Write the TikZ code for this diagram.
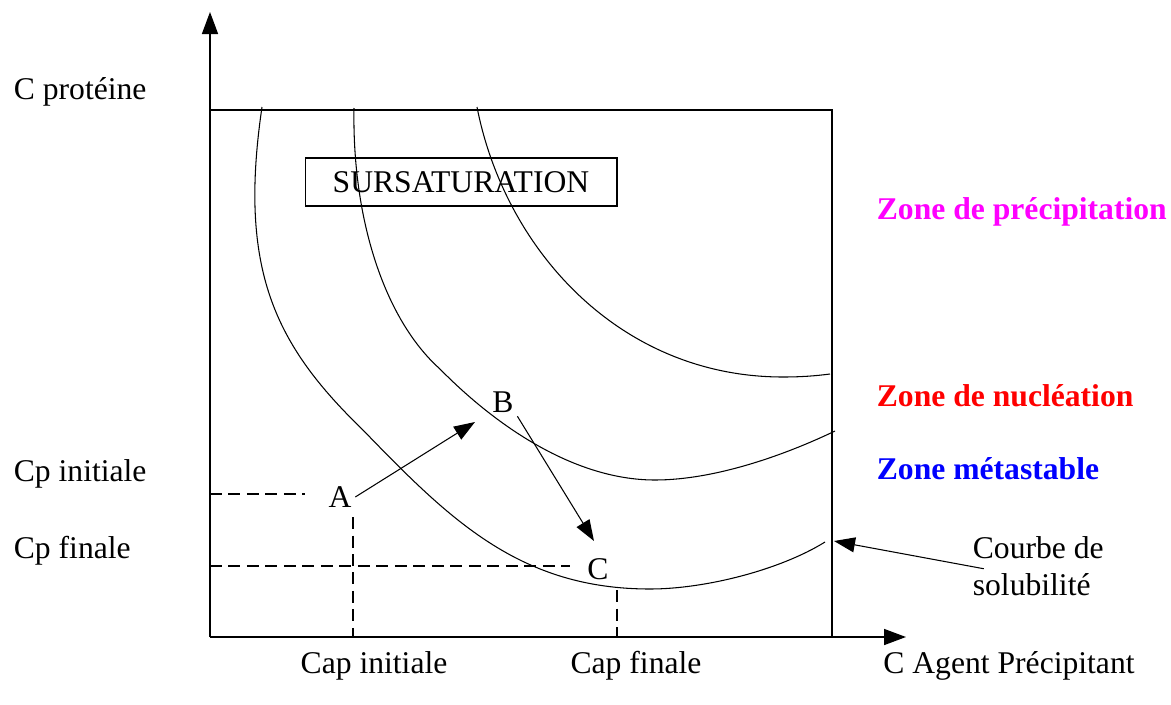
\documentclass[tikz,border=0pt]{standalone}
\usepackage{fontspec}
\setmainfont{Liberation Serif}
\usetikzlibrary{
	positioning,
	arrows.meta
}
\definecolor{precipcolor}{HTML}{FF00FF}
\definecolor{nuclcolor}{HTML}{FF0000}
\definecolor{metacolor}{HTML}{0000FF}
\tikzset{
	labelnode/.style={
		inner sep=2pt,
		font=\fontsize{18}{21}\selectfont
	},
	zonenode/.style={
		labelnode,
		anchor=west,
		font=\fontsize{18}{21}\selectfont\bfseries
	},
	axisline/.style={
		-{Triangle[length=0.44cm,width=0.32cm]},
		line width=0.9pt
	},
	arrow/.style={
		-{Triangle[length=0.42cm,width=0.3cm]},
		line width=0.6pt
	},
	solcurve/.style={
		line width=0.6pt
	},
	dashline/.style={
		dash pattern=on 0.24cm off 0.13cm,
		line width=0.7pt
	}
}

\begin{document}
\begin{tikzpicture}[x=0.02cm, y=-0.02cm]
		\useasboundingbox (0,0) rectangle (1171,704);
		
		% Axes
		\coordinate (origin) at (210,637);
		\coordinate (ytop) at (210,12);
		\coordinate (xend) at (906,637);
		\draw[axisline] (origin) -- (ytop);
		\draw[axisline] (origin) -- (xend);
		
		% Frame
		\coordinate (frametl) at (210,110);
		\coordinate (frametr) at (832,110);
		\coordinate (framebr) at (832,637);
		\draw[line width=0.7pt] (frametl) -- (frametr) -- (framebr);
		
		% Curves
		% solubility
		\draw[solcurve] (262,107) .. controls (238,270) and (275,345) .. (363,430)
		.. controls (450,520) and (520,589) .. (650,589)
		.. controls (705,589) and (780,570) .. (825,542);
		% nucleation
		\draw[solcurve] (354,108) .. controls (352,220) and (385,320) .. (440,369)
		.. controls (490,420) and (570,480) .. (655,480)
		.. controls (715,480) and (785,455) .. (835,431);
		% precipitation
		\draw[solcurve] (477,107) .. controls (505,250) and (620,377) .. (783,377)
		.. controls (800,377) and (815,376) .. (830,374);
		
		% Box
		\node[labelnode, draw, line width=0.6pt, minimum width=6.24cm,
		minimum height=0.96cm] (sursat) at (461,182) {SURSATURATION};
		
		% Points
		\node[labelnode] (A) at (340,497) {A};
		\node[labelnode] (B) at (503,402) {B};
		\node[labelnode] (C) at (598,569) {C};
		
		% Arrows
		\coordinate (abtip) at (475,422);
		\coordinate (bctip) at (594,541);
		\draw[arrow] (A.east) -- (abtip);
		\draw[arrow] (B.south east) -- (bctip);
		
		% Dashed lines
		\draw[dashline] (210,494) -- (305,494);
		\draw[dashline] (353,517) -- (353,637);
		\draw[dashline] (210,566) -- (570,566);
		\draw[dashline] (617,590) -- (617,637);
		
		% Axis labels
		\node[labelnode, anchor=west] (cprot) at (10,92) {C protéine};
		\node[labelnode, anchor=west] (cpinit) at (10,474) {Cp initiale};
		\node[labelnode, anchor=west] (cpfin) at (10,551) {Cp finale};
		\node[labelnode] (capinit) at (374,666) {Cap initiale};
		\node[labelnode] (capfin) at (636,666) {Cap finale};
		\node[labelnode] (cagent) at (1009,666) {C Agent Précipitant};
		
		% Zones
		\node[zonenode, text=precipcolor] (zprecip) at (873,212) {Zone de précipitation};
		\node[zonenode, text=nuclcolor] (znucl) at (873,396) {Zone de nucléation};
		\node[zonenode, text=metacolor] (zmeta) at (873,469) {Zone métastable};
		
		% Solubility label
		\node[labelnode, anchor=west, align=left] (courbe) at (969,566)
		{Courbe de\\solubilité};
		\coordinate (soltip) at (834,541);
		\draw[arrow, shorten <=-0.3cm] (courbe.west) -- (soltip);
		
	\end{tikzpicture}
\end{document}
